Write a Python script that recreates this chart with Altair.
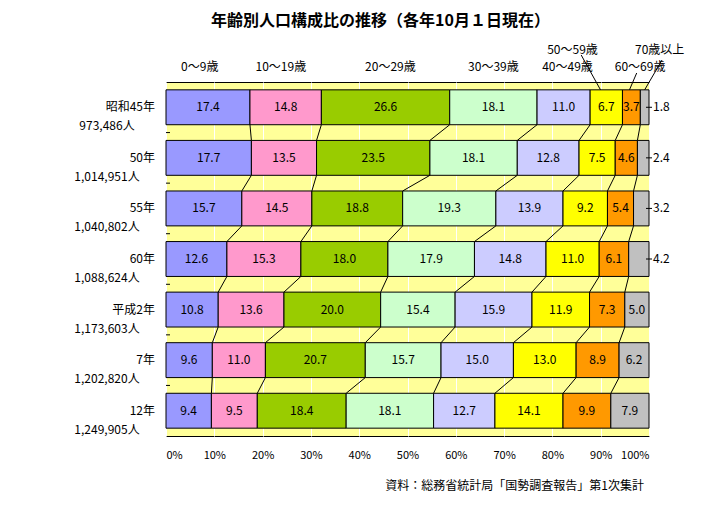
import altair as alt
import pandas as pd

# ---------------- data ----------------
title_text = "年齢別人口構成比の推移（各年10月１日現在）"
years = ["昭和45年", "50年", "55年", "60年", "平成2年", "7年", "12年"]
populations = ["973,486人", "1,014,951人", "1,040,802人", "1,088,624人",
               "1,173,603人", "1,202,820人", "1,249,905人"]
age_groups = ["0～9歳", "10～19歳", "20～29歳", "30～39歳",
              "40～49歳", "50～59歳", "60～69歳", "70歳以上"]

share_s45 = [17.4, 14.8, 26.6, 18.1, 11.0, 6.7, 3.7, 1.8]
share_s50 = [17.7, 13.5, 23.5, 18.1, 12.8, 7.5, 4.6, 2.4]
share_s55 = [15.7, 14.5, 18.8, 19.3, 13.9, 9.2, 5.4, 3.2]
share_s60 = [12.6, 15.3, 18.0, 17.9, 14.8, 11.0, 6.1, 4.2]
share_h02 = [10.8, 13.6, 20.0, 15.4, 15.9, 11.9, 7.3, 5.0]
share_h07 = [9.6, 11.0, 20.7, 15.7, 15.0, 13.0, 8.9, 6.2]
share_h12 = [9.4, 9.5, 18.4, 18.1, 12.7, 14.1, 9.9, 7.9]
shares = [share_s45, share_s50, share_s55, share_s60, share_h02, share_h07, share_h12]

x_ticks = [0, 10, 20, 30, 40, 50, 60, 70, 80, 90, 100]

colors = ["#9999FF", "#FF99CC", "#99CC00", "#CCFFCC",
          "#CCCCFF", "#FFFF00", "#FF9900", "#C0C0C0"]

# ---------------- layout constants ----------------
W, H = 483, 354
HALF = 0.345                     # half bar thickness in row units
PX_ROW = H / len(years)
FONT = "Noto Sans CJK JP"
top_label_shift = [-1.7, -1.0, 1.0, 0.0, 0.8, -7.0, 1.8, 3.1]   # % units
top_label_upper = [False, False, False, False, False, True, False, True]

# ---------------- derived tables ----------------
rows = []
for i, vals in enumerate(shares):
    tot = sum(vals)
    cum = 0.0
    for k, v in enumerate(vals):
        s = cum / tot * 100
        cum += v
        e = cum / tot * 100
        rows.append(dict(row=i, year=years[i], age=age_groups[k], k=k, value=v,
                         start=s, end=e, mid=(s + e) / 2,
                         ylo=i - HALF, yhi=i + HALF,
                         inside=not (k == 7 and v < 4.5)))
df = pd.DataFrame(rows)

conn = []
for i in range(len(years) - 1):
    a = df[df.row == i]
    b = df[df.row == i + 1]
    for k in range(7):
        conn.append(dict(x1=a[a.k == k].end.iloc[0], x2=b[b.k == k].end.iloc[0],
                         y1=i + HALF, y2=i + 1 - HALF))
conn_df = pd.DataFrame(conn)

first = df[df.row == 0].reset_index(drop=True)
top_df = pd.DataFrame(dict(label=age_groups,
                           lx=[first.mid[k] + top_label_shift[k] for k in range(8)],
                           mid=first.mid, upper=top_label_upper))

lead_df = pd.DataFrame(dict(
    x1=[first.mid[5] - 5.2, first.mid[6] + 1.1, first.mid[7] + 3.6],
    y1=[-0.5 - 27 / PX_ROW, -0.5 - 9 / PX_ROW, -0.5 - 22 / PX_ROW],
    x2=[first.mid[5] - 1.2, first.mid[6] - 0.4, first.mid[7]],
    y2=[-HALF, -HALF, -HALF]))

left_df = pd.DataFrame(dict(row=list(range(len(years))), year=years, pop=populations))
bound_df = pd.DataFrame(dict(b=[i + 0.5 for i in range(len(years) - 1)]))

xs = alt.Scale(domain=[0, 100], nice=False, zero=False)
ys = alt.Scale(domain=[-0.5, len(years) - 0.5], reverse=True, nice=False, zero=False)

base = alt.Chart(df)

bars = base.mark_rect(stroke="black", strokeWidth=1).encode(
    x=alt.X("start:Q", scale=xs,
            axis=alt.Axis(values=x_ticks, labelExpr="datum.value + '%'", title=None,
                          grid=True, gridColor="white", gridOpacity=1, gridWidth=1,
                          domain=False, ticks=False, labelPadding=13, labelFont=FONT,
                          labelFontSize=11, labelColor="black")),
    x2="end:Q",
    y=alt.Y("ylo:Q", scale=ys, axis=None),
    y2="yhi:Q",
    color=alt.Color("age:N", scale=alt.Scale(domain=age_groups, range=colors), legend=None),
)

vals_in = base.transform_filter("datum.inside").mark_text(
    font=FONT, fontSize=12, color="black", baseline="middle").encode(
    x=alt.X("mid:Q", scale=xs), y=alt.Y("row:Q", scale=ys),
    text=alt.Text("value:Q", format=".1f"))

vals_out = base.transform_filter("!datum.inside").mark_text(
    font=FONT, fontSize=12, color="black", baseline="middle", align="left").encode(
    x=alt.value(W + 4), y=alt.Y("row:Q", scale=ys),
    text=alt.Text("value:Q", format=".1f"))

out_ticks = base.transform_filter("!datum.inside").mark_rule(color="black").encode(
    x=alt.value(W - 3), x2=alt.value(W + 3), y=alt.Y("row:Q", scale=ys))

connectors = alt.Chart(conn_df).mark_rule(color="black", strokeWidth=1).encode(
    x=alt.X("x1:Q", scale=xs), x2="x2:Q",
    y=alt.Y("y1:Q", scale=ys), y2="y2:Q")

bound_ticks = alt.Chart(bound_df).mark_rule(color="black").encode(
    x=alt.value(0), x2=alt.value(4), y=alt.Y("b:Q", scale=ys))

top_lo = alt.Chart(top_df).transform_filter("!datum.upper").mark_text(
    font=FONT, fontSize=12, color="black", baseline="middle").encode(
    x=alt.X("lx:Q", scale=xs), y=alt.value(-15), text="label:N")
top_hi = alt.Chart(top_df).transform_filter("datum.upper").mark_text(
    font=FONT, fontSize=12, color="black", baseline="middle").encode(
    x=alt.X("lx:Q", scale=xs), y=alt.value(-32), text="label:N")

leads = alt.Chart(lead_df).mark_rule(color="black").encode(
    x=alt.X("x1:Q", scale=xs), x2="x2:Q",
    y=alt.Y("y1:Q", scale=ys), y2="y2:Q")

left_year = alt.Chart(left_df).mark_text(
    font=FONT, fontSize=12, color="black", align="right", baseline="middle").encode(
    x=alt.value(-11), y=alt.Y("row:Q", scale=ys), text="year:N")
left_pop = alt.Chart(left_df).mark_text(
    font=FONT, fontSize=12, color="black", align="center", baseline="middle", dy=19).encode(
    x=alt.value(-59), y=alt.Y("row:Q", scale=ys), text="pop:N")

source = alt.Chart(pd.DataFrame(dict(t=["資料：総務省統計局「国勢調査報告」第1次集計"]))).mark_text(
    font=FONT, fontSize=12, color="black", align="right", baseline="middle").encode(
    x=alt.value(W - 5), y=alt.value(H + 50), text="t:N")

title = alt.Chart(pd.DataFrame(dict(t=[title_text]))).mark_text(
    font=FONT, fontSize=16, fontWeight="bold", color="black",
    align="center", baseline="middle").encode(
    x=alt.value(W / 2 - 27), y=alt.value(-61), text="t:N")

chart = alt.layer(bars, connectors, bound_ticks, vals_in, vals_out, out_ticks,
                  top_lo, top_hi, leads, left_year, left_pop, source, title).properties(
    width=W, height=H,
    autosize=alt.AutoSizeParams(type="none"),
    padding={"left": 158, "top": 74, "right": 64, "bottom": 61},
    background="white",
).configure_view(fill="#FFFF99", stroke="black", strokeWidth=1)

chart.save("out.html", embed_options={"renderer": "svg", "actions": False})
